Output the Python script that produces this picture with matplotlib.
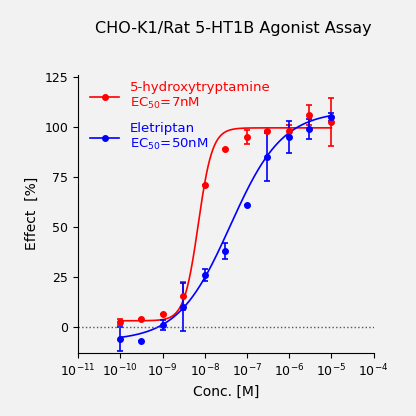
import numpy as np
import matplotlib.pyplot as plt

conc = np.array([1e-10, 3e-10, 1e-9, 3e-9, 1e-8, 3e-8, 1e-7, 3e-7, 1e-6, 3e-6, 1e-5])
ht_mean = [2.5, 4, 6.5, 15.5, 71, 89, 95, 98, 98, 106, 102.5]
ht_err = [1.5, 0, 0, 7, 0, 0, 3.5, 0, 3, 5, 12]
ele_mean = [-6, -7, 1, 10, 26, 38, 61, 85, 95, 99, 105]
ele_err = [6, 0, 2.5, 12, 3, 4, 0, 12, 8, 5, 2]

# 4PL fit parameters: bottom, top, EC50, hill
ht_fit = (3, 99.5, 7e-9, 2.6)
ele_fit = (-7, 108, 4e-8, 0.7)


def logistic(x, bottom, top, ec50, hill):
    return bottom + (top - bottom) / (1 + (ec50 / x) ** hill)


fig = plt.figure(figsize=(4.16, 4.16), dpi=100, facecolor="#f2f2f2")
ax = fig.add_axes([0.188, 0.152, 0.71, 0.668])
ax.set_facecolor("#f2f2f2")

xs = np.logspace(-10, -5, 400)
for mean, err, fit, col, lab in [
    (ht_mean, ht_err, ht_fit, "#ff0000", "5-hydroxytryptamine\nEC$_{50}$=7nM"),
    (ele_mean, ele_err, ele_fit, "#0000ff", "Eletriptan\nEC$_{50}$=50nM"),
]:
    ax.errorbar(conc, mean, yerr=err, fmt="o", color=col, ms=4, capsize=2.5, elinewidth=1.2, capthick=1.2)
    ax.plot(xs, logistic(xs, *fit), color=col, lw=1.2)
    ax.plot([], [], "-o", color=col, ms=4, lw=1.2, label=lab)

ax.axhline(0, color="#555555", ls=":", lw=1)
ax.set_xscale("log")
ax.set_xlim(1e-11, 1e-4)
ax.set_ylim(-13, 126)
ax.set_xticks([10.0 ** k for k in range(-11, -3)])
ax.set_yticks([0, 25, 50, 75, 100, 125])
ax.minorticks_off()
for s in ["top", "right"]:
    ax.spines[s].set_visible(False)
ax.tick_params(labelsize=9)
ax.set_xlabel("Conc. [M]", fontsize=10)
ax.set_ylabel("Effect  [%]", fontsize=10)
fig.suptitle("CHO-K1/Rat 5-HT1B Agonist Assay", x=0.56, y=0.95, fontsize=11.5)

leg = ax.legend(loc="upper left", bbox_to_anchor=(0.0, 1.02), frameon=False, fontsize=9.5,
                handlelength=2.2, labelspacing=0.8)
for t, c in zip(leg.get_texts(), ["#ff0000", "#0000ff"]):
    t.set_color(c)

fig.savefig("out.png", dpi=100, facecolor=fig.get_facecolor())
